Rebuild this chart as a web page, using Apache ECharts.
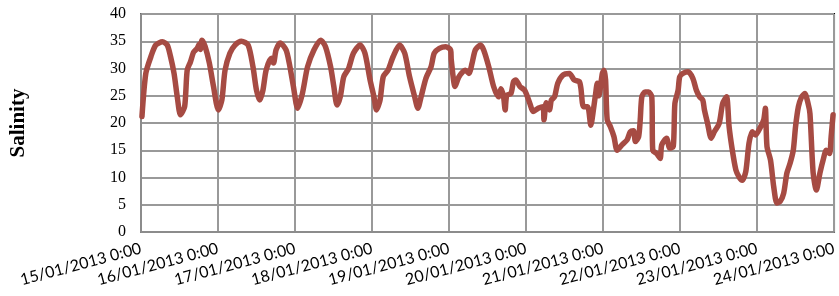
<!DOCTYPE html>
<html>
<head>
<meta charset="utf-8">
<script src="https://cdn.jsdelivr.net/npm/echarts@6/dist/echarts.min.js"></script>
<style>
  html, body { margin: 0; padding: 0; background: #fff; }
  #main { width: 839px; height: 296px; }
</style>
</head>
<body>
<div id="main"></div>
<script>
// hours after 15/01/2013 0:00
var hours = [0.3,1.5,3.1,4.6,6.7,8.2,9.2,10.3,11.3,12.3,13.6,14.4,15.4,16.4,17.5,18.2,18.5,19.0,20.0,21.3,
    22.6,24.1,25.2,26.2,27.7,29.3,31.3,33.4,34.9,36.0,37.0,38.0,39.0,40.6,41.3,42.1,43.4,45.2,46.2,47.5,
    48.8,50.3,51.9,53.9,56.0,57.5,59.1,60.1,61.1,62.1,63.2,64.7,66.2,68.3,69.8,71.4,72.6,73.4,74.5,75.5,
    77.0,78.6,80.6,82.2,83.7,85.3,86.3,87.3,88.8,90.4,91.4,93.0,95.0,96.5,96.7,97.9,99.1,101.1,102.2,103.2,
    104.2,105.8,106.8,108.4,109.9,111.4,112.2,113.0,113.5,114.0,115.3,116.1,116.8,118.1,119.6,121.2,122.2,123.8,125.3,125.6,
    126.3,127.3,127.9,128.9,129.9,131.5,133.5,135.0,136.6,137.1,137.9,139.2,140.2,141.0,141.7,142.2,142.7,143.8,144.3,144.8,
    145.3,146.3,147.4,148.4,149.9,151.5,152.5,153.5,154.1,155.1,155.6,156.1,157.1,158.2,159.2,159.5,160.7,161.8,162.3,163.8,
    164.8,165.9,166.4,167.4,167.9,168.9,170.5,172.0,173.1,174.1,175.1,175.6,176.6,177.7,178.7,180.2,181.3,182.5,183.3,184.3,
    185.4,186.4,187.4,188.5,189.5,190.5,191.5,193.1,194.1,194.6,195.1,196.2,197.2,198.2,199.2,200.3,201.3,202.3,203.3,204.0,
    204.9,205.9,206.9,207.9,208.5,209.5,210.5,211.6,212.6,213.6,214.6,215.1,215.7];
var salinity = [21.2,29.1,32.2,34.3,34.9,34.3,32.2,29.1,24.8,21.5,23.0,29.7,31.2,33.0,33.7,34.5,33.5,35.2,34.0,31.0,
    26.7,22.4,24.2,29.7,32.8,34.3,35.0,34.3,30.3,26.0,24.2,26.0,29.7,31.9,31.0,33.4,34.7,33.4,31.0,26.7,
    22.7,25.4,30.3,33.4,35.2,34.0,30.3,26.7,23.3,24.8,28.5,30.0,32.8,34.3,32.8,27.9,24.8,22.4,24.2,28.5,
    29.7,32.2,34.3,32.8,28.5,24.8,22.7,24.8,28.2,30.3,32.8,33.7,34.0,33.4,31.6,26.7,28.5,29.7,29.1,31.0,
    33.4,34.3,33.4,30.3,26.7,24.8,26.3,24.8,22.4,25.1,25.4,27.6,27.9,26.7,26.0,23.6,22.1,22.7,23.0,20.6,
    23.7,22.4,24.2,24.8,27.3,28.8,29.1,27.9,27.6,26.4,23.0,23.0,19.6,22.4,25.4,27.3,25.0,29.1,29.7,27.9,
    20.6,19.3,17.5,15.0,16.0,16.9,18.4,18.6,16.6,17.5,20.6,24.8,25.7,25.7,24.8,15.0,14.4,13.5,16.0,17.2,
    15.4,15.7,23.6,26.0,28.5,29.1,29.4,28.2,26.0,24.8,24.2,22.4,19.9,17.2,18.4,19.9,23.6,24.8,19.3,15.0,
    11.4,10.1,9.5,11.1,16.3,18.4,17.8,19.3,20.6,22.7,15.7,13.2,8.3,5.3,5.6,7.1,10.8,12.6,15.0,19.3,
    23.0,24.8,25.4,23.6,21.7,10.8,7.7,10.8,13.2,15.0,14.4,17.5,21.5];
var dayLabels = ['15/01/2013 0:00','16/01/2013 0:00','17/01/2013 0:00','18/01/2013 0:00','19/01/2013 0:00',
    '20/01/2013 0:00','21/01/2013 0:00','22/01/2013 0:00','23/01/2013 0:00','24/01/2013 0:00'];
var yTicks = [0, 40, 5];

var points = [];
for (var i = 0; i < hours.length; i++) {
    points.push([hours[i], salinity[i]]);
}

var gridColor = '#999999';

var chart = echarts.init(document.getElementById('main'), null, { renderer: 'canvas' });
chart.setOption({
    animation: false,
    grid: {
        left: 135, right: 3, top: 14, bottom: 64,
        show: true,
        borderColor: '#000',
        borderWidth: 2,
        backgroundColor: 'transparent'
    },
    xAxis: {
        type: 'value',
        min: 0,
        max: 216,
        interval: 24,
        axisLine: { show: true, lineStyle: { color: '#8c8c8c', width: 2 } },
        axisTick: { show: false },
        splitLine: { show: true, lineStyle: { color: gridColor, width: 2 } },
        axisLabel: {
            rotate: 15,
            margin: 16,
            fontFamily: 'Lato',
            fontSize: 16,
            color: '#000',
            showMinLabel: true,
            showMaxLabel: true,
            formatter: function (v) { return dayLabels[Math.round(v / 24)]; }
        }
    },
    yAxis: {
        type: 'value',
        min: yTicks[0],
        max: yTicks[1],
        interval: yTicks[2],
        name: 'Salinity',
        nameLocation: 'middle',
        nameGap: 112,
        nameRotate: 90,
        nameTextStyle: { fontFamily: 'Liberation Serif', fontWeight: 'bold', fontSize: 21, color: '#000' },
        axisLine: { show: true, lineStyle: { color: '#8c8c8c', width: 2 } },
        axisTick: { show: false },
        splitLine: { show: true, lineStyle: { color: gridColor, width: 2 } },
        axisLabel: { margin: 15, fontFamily: 'Liberation Serif', fontSize: 16, color: '#000' }
    },
    series: [{
        type: 'line',
        data: points,
        showSymbol: false,
        smooth: 0.25,
        z: 3,
        lineStyle: { color: '#a64b43', width: 5.5, join: 'round', cap: 'round' },
        itemStyle: { color: '#a64b43' }
    }]
});
</script>
</body>
</html>
